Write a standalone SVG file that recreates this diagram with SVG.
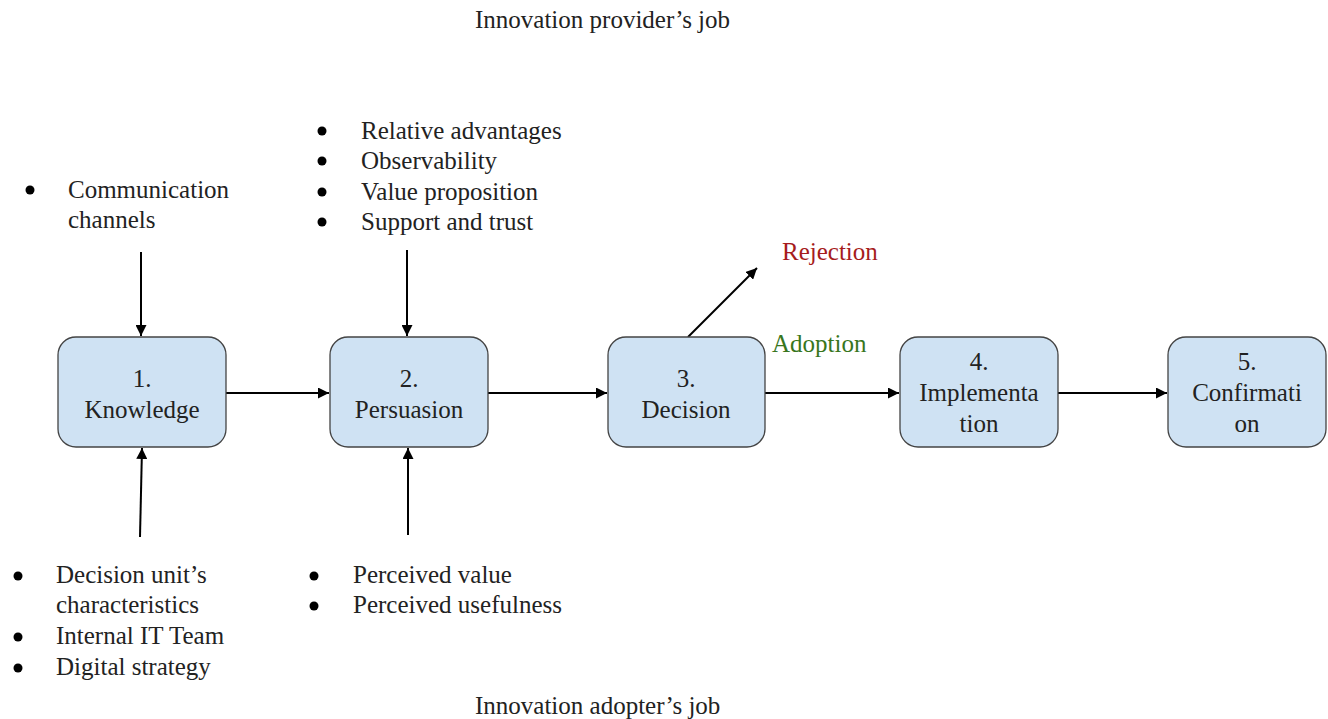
<svg xmlns="http://www.w3.org/2000/svg" width="1328" height="719" viewBox="0 0 1328 719" font-family="'Liberation Serif', 'Times New Roman', 'DejaVu Serif', serif">
<defs>
<marker id="ah" viewBox="0 0 10 10" refX="10" refY="5" markerWidth="11" markerHeight="11" markerUnits="userSpaceOnUse" orient="auto">
<path d="M0,0 L10,5 L0,10 z" fill="#000"/>
</marker>
<style>
text{font-family:'Liberation Serif','Times New Roman','DejaVu Serif',serif;font-size:25px;fill:#222}
.c{text-anchor:middle}
.box{fill:#cfe2f3;stroke:#444;stroke-width:1.3}
.ln{stroke:#000;stroke-width:2;fill:none;marker-end:url(#ah)}
</style>
</defs>
<rect width="1328" height="719" fill="#fff"/>
<text x="475" y="28">Innovation provider’s job</text>
<text x="475" y="714">Innovation adopter’s job</text>

<g id="notes-top-left">
<circle cx="30" cy="190" r="4.5" fill="#000"/>
<text x="68" y="198">Communication</text>
<text x="68" y="228">channels</text>
</g>
<g id="notes-top-persuasion">
<circle cx="322" cy="131" r="4.5" fill="#000"/>
<circle cx="322" cy="161" r="4.5" fill="#000"/>
<circle cx="322" cy="192" r="4.5" fill="#000"/>
<circle cx="322" cy="222" r="4.5" fill="#000"/>
<text x="361" y="139">Relative advantages</text>
<text x="361" y="169">Observability</text>
<text x="361" y="200">Value proposition</text>
<text x="361" y="230">Support and trust</text>
</g>
<g id="notes-bottom-left">
<circle cx="18" cy="576" r="4.5" fill="#000"/>
<circle cx="18" cy="637" r="4.5" fill="#000"/>
<circle cx="18" cy="668" r="4.5" fill="#000"/>
<text x="56" y="583">Decision unit’s</text>
<text x="56" y="613">characteristics</text>
<text x="56" y="644">Internal IT Team</text>
<text x="56" y="675">Digital strategy</text>
</g>
<g id="notes-bottom-persuasion">
<circle cx="314" cy="576" r="4.5" fill="#000"/>
<circle cx="314" cy="606" r="4.5" fill="#000"/>
<text x="353" y="583">Perceived value</text>
<text x="353" y="613">Perceived usefulness</text>
</g>

<g id="connectors">
<line class="ln" x1="141" y1="252" x2="141" y2="336"/>
<line class="ln" x1="407" y1="250" x2="407" y2="336"/>
<line class="ln" x1="140" y1="537" x2="142" y2="448"/>
<line class="ln" x1="408" y1="535" x2="408" y2="448"/>
<line class="ln" x1="226" y1="393" x2="329" y2="393"/>
<line class="ln" x1="488" y1="393" x2="607" y2="393"/>
<line class="ln" x1="765" y1="393" x2="899" y2="393"/>
<line class="ln" x1="1058" y1="393" x2="1167" y2="393"/>
<line class="ln" x1="688" y1="337" x2="757" y2="268"/>
</g>
<text x="782" y="260" style="fill:#a61c1c">Rejection</text>
<text x="772" y="352" style="fill:#38761d">Adoption</text>

<g id="n1">
<rect class="box" x="58" y="337" width="168" height="110" rx="18"/>
<text class="c" x="142" y="387">1.</text>
<text class="c" x="142" y="418">Knowledge</text>
</g>
<g id="n2">
<rect class="box" x="330" y="337" width="158" height="110" rx="18"/>
<text class="c" x="409" y="387">2.</text>
<text class="c" x="409" y="418">Persuasion</text>
</g>
<g id="n3">
<rect class="box" x="608" y="337" width="157" height="110" rx="18"/>
<text class="c" x="686" y="387">3.</text>
<text class="c" x="686" y="418">Decision</text>
</g>
<g id="n4">
<rect class="box" x="900" y="337" width="158" height="110" rx="18"/>
<text class="c" x="979" y="370">4.</text>
<text class="c" x="979" y="401">Implementa</text>
<text class="c" x="979" y="432">tion</text>
</g>
<g id="n5">
<rect class="box" x="1168" y="337" width="158" height="110" rx="18"/>
<text class="c" x="1247" y="370">5.</text>
<text class="c" x="1247" y="401">Confirmati</text>
<text class="c" x="1247" y="432">on</text>
</g>
</svg>
